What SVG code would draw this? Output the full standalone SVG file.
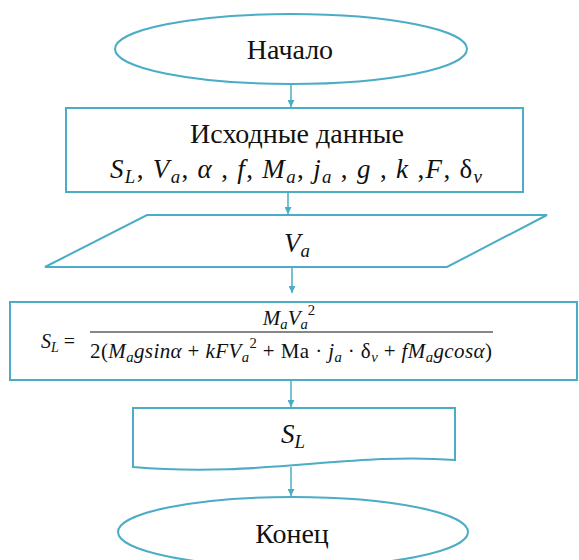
<svg xmlns="http://www.w3.org/2000/svg" width="579" height="560" viewBox="0 0 579 560">
<style>
.s{fill:#fff;stroke:#4bacc6;stroke-width:2}
.c{stroke:#4bacc6;stroke-width:1.5;fill:none}
.t{fill:#111;font-family:"Liberation Serif","DejaVu Serif","Times New Roman",serif}
.i{font-style:italic}
.sb{font-size:70%}
</style>
<defs>
<marker id="ah" viewBox="0 0 10 10" refX="10" refY="5" markerWidth="7" markerHeight="7" markerUnits="userSpaceOnUse" orient="auto"><path d="M0,0 L10,5 L0,10 z" fill="#4bacc6"/></marker>
</defs>
<rect width="579" height="560" fill="#fff"/>
<g id="connectors">
<line class="c" x1="291" y1="84" x2="291" y2="107" marker-end="url(#ah)"/>
<line class="c" x1="288" y1="192" x2="288" y2="214" marker-end="url(#ah)"/>
<line class="c" x1="292" y1="267" x2="292" y2="293" marker-end="url(#ah)"/>
<line class="c" x1="291" y1="380" x2="291" y2="407" marker-end="url(#ah)"/>
<line class="c" x1="291" y1="467" x2="291" y2="496" marker-end="url(#ah)"/>
</g>
<g id="start">
<ellipse class="s" cx="291" cy="49" rx="176" ry="35"/>
<text class="t" x="290" y="59" font-size="28" text-anchor="middle">Начало</text>
</g>
<g id="input">
<rect class="s" x="66" y="108" width="457" height="84"/>
<text class="t" x="297" y="143" font-size="28" text-anchor="middle">Исходные данные</text>
<text class="t" x="296" y="178" font-size="27" text-anchor="middle" textLength="372" lengthAdjust="spacing"><tspan class="i">S</tspan><tspan class="i sb" dy="5">L</tspan><tspan dy="-5">, </tspan><tspan class="i">V</tspan><tspan class="i sb" dy="5">a</tspan><tspan dy="-5">, </tspan><tspan class="i">α</tspan><tspan> , </tspan><tspan class="i">f</tspan><tspan>, </tspan><tspan class="i">M</tspan><tspan class="i sb" dy="5">a</tspan><tspan dy="-5">, </tspan><tspan class="i">j</tspan><tspan class="i sb" dy="5">a</tspan><tspan dy="-5"> , </tspan><tspan class="i">g</tspan><tspan> , </tspan><tspan class="i">k</tspan><tspan> ,</tspan><tspan class="i">F</tspan><tspan>, δ</tspan><tspan class="i sb" dy="5">v</tspan></text>
</g>
<g id="data">
<polygon class="s" points="147,215 547,215 447,267 45,267"/>
<text class="t" x="297" y="252" font-size="27" text-anchor="middle"><tspan class="i">V</tspan><tspan class="i sb" dy="5">a</tspan></text>
</g>
<g id="process">
<rect class="s" x="10" y="302" width="567" height="78"/>
<text class="t" x="41" y="348" font-size="20"><tspan class="i">S</tspan><tspan class="i sb" dy="4">L</tspan><tspan dy="-4"> =</tspan></text>
<line x1="90" y1="332" x2="493" y2="332" stroke="#111" stroke-width="1.2"/>
<text class="t" x="289" y="325" font-size="21" text-anchor="middle"><tspan class="i">M</tspan><tspan class="i sb" dy="4">a</tspan><tspan class="i" dy="-4">V</tspan><tspan class="i sb" dy="4">a</tspan><tspan class="sb" dy="-14">2</tspan></text>
<text class="t" x="291" y="358" font-size="21" text-anchor="middle" textLength="402" lengthAdjust="spacing"><tspan>2(</tspan><tspan class="i">M</tspan><tspan class="i sb" dy="4">a</tspan><tspan class="i" dy="-4">gsinα</tspan><tspan> + </tspan><tspan class="i">kFV</tspan><tspan class="i sb" dy="4">a</tspan><tspan class="sb" dy="-14">2</tspan><tspan dy="10"> + Ma · </tspan><tspan class="i">j</tspan><tspan class="i sb" dy="4">a</tspan><tspan dy="-4"> · δ</tspan><tspan class="i sb" dy="4">v</tspan><tspan dy="-4"> + </tspan><tspan class="i">fM</tspan><tspan class="i sb" dy="4">a</tspan><tspan class="i" dy="-4">gcosα</tspan><tspan>)</tspan></text>
</g>
<g id="output">
<path class="s" d="M133,408 H455 V460 C350,452 260,478 133,467 Z"/>
<text class="t" x="293" y="443" font-size="27" text-anchor="middle"><tspan class="i">S</tspan><tspan class="i sb" dy="5">L</tspan></text>
</g>
<g id="end">
<ellipse class="s" cx="293" cy="532" rx="175" ry="35"/>
<text class="t" x="292" y="543" font-size="28" text-anchor="middle">Конец</text>
</g>
</svg>
